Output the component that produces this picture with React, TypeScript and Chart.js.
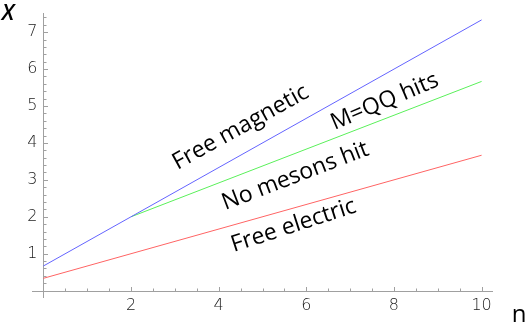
import { useEffect, useRef } from "react";
import { Chart, registerables } from "chart.js";

Chart.register(...registerables);

// data
const magneticN = [0, 10];
const magneticX = [0.667, 7.333];
const mesonN = [2, 10];
const mesonX = [2.0, 5.667];
const electricN = [0, 10];
const electricX = [0.333, 3.667];

const xTicksMajor = [2, 4, 6, 8, 10];
const yTicksMajor = [1, 2, 3, 4, 5, 6, 7];

const labelTexts = ["Free magnetic", "M=QQ hits", "No mesons hit", "Free electric"];
const labelN = [4.5, 7.79, 5.75, 5.71];
const labelX = [4.42, 5.12, 3.1, 1.76];
const labelAngle = [-29, -23, -21, -18];

const toPts = (xs: number[], ys: number[]) => xs.map((x, i) => ({ x, y: ys[i] }));

const axesPlugin = {
  id: "mmaAxes",
  beforeDatasetsDraw(chart: any) {
    const ctx = chart.ctx;
    const xs = chart.scales.x;
    const ys = chart.scales.y;
    const x0 = xs.getPixelForValue(0);
    const y0 = ys.getPixelForValue(0);
    ctx.save();
    ctx.strokeStyle = "#a0a0a0";
    ctx.lineWidth = 1;
    ctx.beginPath();
    ctx.moveTo(xs.left, Math.round(y0) + 0.5);
    ctx.lineTo(xs.right, Math.round(y0) + 0.5);
    ctx.moveTo(Math.round(x0) + 0.5, ys.top);
    ctx.lineTo(Math.round(x0) + 0.5, ys.bottom);
    ctx.stroke();
    ctx.beginPath();
    for (let v = 0.5; v <= xs.max + 1e-9; v += 0.5) {
      const px = Math.round(xs.getPixelForValue(v)) + 0.5;
      const len = Math.abs(v - Math.round(v / 2) * 2) < 1e-9 ? 4 : 2.5;
      ctx.moveTo(px, Math.round(y0));
      ctx.lineTo(px, Math.round(y0) - len);
    }
    for (let i = 1; i * 0.2 <= ys.max + 1e-9; i++) {
      const v = i * 0.2;
      const py = Math.round(ys.getPixelForValue(v)) + 0.5;
      const len = i % 5 === 0 ? 4 : 2.5;
      ctx.moveTo(Math.round(x0) + 1, py);
      ctx.lineTo(Math.round(x0) + 1 + len, py);
    }
    ctx.stroke();

    ctx.fillStyle = "#222";
    ctx.font = "300 16px 'DejaVu Sans'";
    ctx.textAlign = "center";
    ctx.textBaseline = "middle";
    xTicksMajor.forEach((v) => {
      ctx.fillText(String(v), xs.getPixelForValue(v), y0 + 15);
    });
    ctx.textAlign = "right";
    yTicksMajor.forEach((v) => {
      ctx.fillText(String(v), x0 - 6, ys.getPixelForValue(v));
    });

    ctx.fillStyle = "#000";
    ctx.textAlign = "center";
    ctx.font = "italic 600 22px 'Open Sans'";
    ctx.fillText("X", 8, 14);
    ctx.font = "24px 'Open Sans'";
    ctx.fillText("n", 519, 315);
    ctx.restore();
  },
  afterDatasetsDraw(chart: any) {
    const ctx = chart.ctx;
    const xs = chart.scales.x;
    const ys = chart.scales.y;
    ctx.save();
    ctx.fillStyle = "#000";
    ctx.font = "500 23px 'Open Sans'";
    ctx.textAlign = "center";
    ctx.textBaseline = "middle";
    labelTexts.forEach((t, i) => {
      ctx.save();
      ctx.translate(xs.getPixelForValue(labelN[i]), ys.getPixelForValue(labelX[i]));
      ctx.rotate((labelAngle[i] * Math.PI) / 180);
      ctx.fillText(t, 0, 0);
      ctx.restore();
    });
    ctx.restore();
  },
};

export default function App() {
  const ref = useRef<HTMLCanvasElement>(null);
  useEffect(() => {
    document.body.style.margin = "0";
    const chart = new Chart(ref.current!, {
      type: "scatter",
      data: {
        datasets: [
          {
            data: toPts(magneticN, magneticX),
            showLine: true,
            borderColor: "rgb(100,100,255)",
            borderWidth: 1,
            pointRadius: 0,
          },
          {
            data: toPts(mesonN, mesonX),
            showLine: true,
            borderColor: "rgb(90,240,90)",
            borderWidth: 1,
            pointRadius: 0,
          },
          {
            data: toPts(electricN, electricX),
            showLine: true,
            borderColor: "rgb(255,100,100)",
            borderWidth: 1,
            pointRadius: 0,
          },
        ],
      },
      options: {
        responsive: false,
        animation: false,
        layout: { padding: { left: 32, right: 33, top: 13, bottom: 30 } },
        plugins: { legend: { display: false }, tooltip: { enabled: false } },
        scales: {
          x: { type: "linear", min: -0.26, max: 10.26, display: false },
          y: { type: "linear", min: -0.2, max: 7.52, display: false },
        },
      },
      plugins: [axesPlugin],
    });
    return () => chart.destroy();
  }, []);
  return <canvas ref={ref} width={526} height={328} style={{ display: "block" }} />;
}
